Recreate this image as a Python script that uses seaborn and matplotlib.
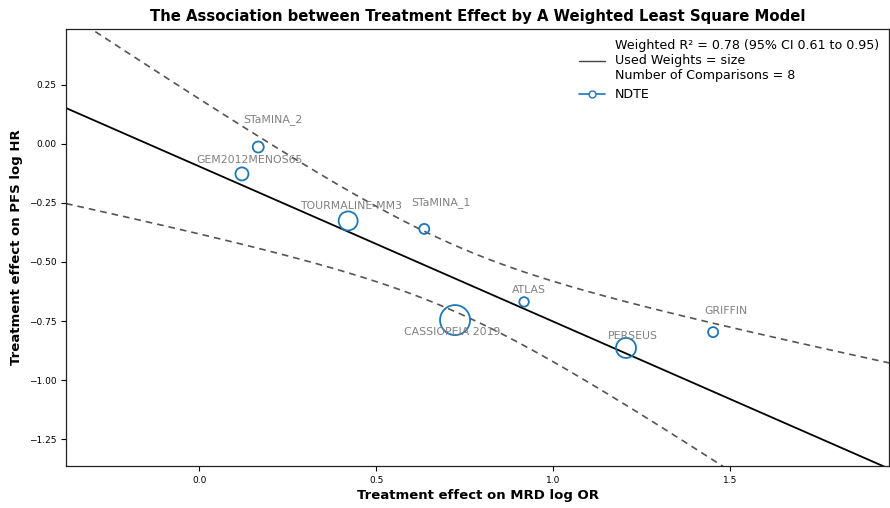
import numpy as np
import pandas as pd
import matplotlib
matplotlib.use("Agg")
import matplotlib.pyplot as plt
from matplotlib.lines import Line2D
import seaborn as sns

# Trial-level treatment effects
trials = ["STaMINA_2", "GEM2012MENOS65", "TOURMALINE-MM3", "STaMINA_1",
          "CASSIOPEIA 2019", "ATLAS", "PERSEUS", "GRIFFIN"]
mrd_log_or = [0.167, 0.121, 0.421, 0.636, 0.723, 0.918, 1.206, 1.452]
pfs_log_hr = [-0.013, -0.127, -0.326, -0.360, -0.746, -0.669, -0.864, -0.797]
weight_size = [63, 88, 188, 52, 467, 47, 207, 52]

# Label placement (pixel offsets from each point)
label_dx = [15, 8, 3, 17, -3, 5, 7, 13]
label_dy = [27, 14, 15, 26, -12, 12, 12, 21]

# Weighted least squares fit and its confidence band
intercept = -0.095
slope = -0.657
band_center = 0.72      # x where the band is narrowest
band_min_half = 0.14    # narrowest half-width
band_curv = 0.12        # growth of squared half-width with distance

xlim = (-0.376, 1.949)
ylim = (-1.364, 0.487)

df = pd.DataFrame({"trial": trials, "x": mrd_log_or, "y": pfs_log_hr,
                   "size": weight_size})

sns.set_theme(style="ticks")
plt.rcParams["font.family"] = ["DejaVu Sans"]
plt.rcParams.update({"text.color": "black", "axes.labelcolor": "black",
                     "xtick.color": "black", "ytick.color": "black",
                     "axes.edgecolor": "#222222"})

fig, ax = plt.subplots(figsize=(8.9, 5.08), dpi=100)
fig.subplots_adjust(left=0.0742, right=0.9989, bottom=0.0827, top=0.943)

xs = np.linspace(xlim[0], xlim[1], 300)
fit = intercept + slope * xs
half = np.sqrt(band_min_half ** 2 + band_curv * (xs - band_center) ** 2)
line_df = pd.DataFrame({"x": xs, "fit": fit, "lo": fit - half, "hi": fit + half})

sns.lineplot(data=line_df, x="x", y="fit", color="black", lw=1.3, ax=ax)
sns.lineplot(data=line_df, x="x", y="hi", color="#555555", lw=1.2,
             linestyle=(0, (4, 3)), ax=ax)
sns.lineplot(data=line_df, x="x", y="lo", color="#555555", lw=1.2,
             linestyle=(0, (4, 3)), ax=ax)

blue = "#1f77b4"
sns.scatterplot(data=df, x="x", y="y", size="size",
                sizes=(min(weight_size), max(weight_size)),
                size_norm=(min(weight_size), max(weight_size)),
                color=blue, facecolor="none", edgecolor=blue,
                linewidth=1.3, legend=False, ax=ax, zorder=3)

for name, xv, yv, dx, dy in zip(trials, mrd_log_or, pfs_log_hr, label_dx, label_dy):
    ax.annotate(name, (xv, yv), xytext=(dx, dy), textcoords="offset pixels",
                ha="center", va="center", fontsize=7.8, color="gray")

ax.set_xlim(*xlim)
ax.set_ylim(*ylim)
ax.set_xticks([0.0, 0.5, 1.0, 1.5])
ax.set_yticks([0.25, 0.0, -0.25, -0.5, -0.75, -1.0, -1.25])
ax.set_yticklabels(["0.25", "0.00", "\u22120.25", "\u22120.50", "\u22120.75",
                    "\u22121.00", "\u22121.25"])
ax.tick_params(labelsize=6.5, length=3.5, width=0.8)
for sp in ax.spines.values():
    sp.set_visible(True)
    sp.set_linewidth(0.9)

ax.set_xlabel("Treatment effect on MRD log OR", fontsize=9.5, fontweight="bold",
              labelpad=3)
ax.set_ylabel("Treatment effect on PFS log HR", fontsize=9.5, fontweight="bold")
ax.set_title("The Association between Treatment Effect by A Weighted Least Square Model",
             fontsize=10.7, fontweight="bold")

handles = [
    Line2D([], [], color="#444444", lw=1.0),
    Line2D([], [], color=blue, lw=1.2, marker="o", markersize=5,
           markerfacecolor="white", markeredgecolor=blue),
]
labels = [
    "Weighted R\u00b2 = 0.78 (95% CI 0.61 to 0.95)\nUsed Weights = size\nNumber of Comparisons = 8",
    "NDTE",
]
ax.legend(handles, labels, loc="upper right", frameon=False, fontsize=9.1,
          handlelength=2.0, borderaxespad=0.4)

fig.savefig("out.png", dpi=100)
